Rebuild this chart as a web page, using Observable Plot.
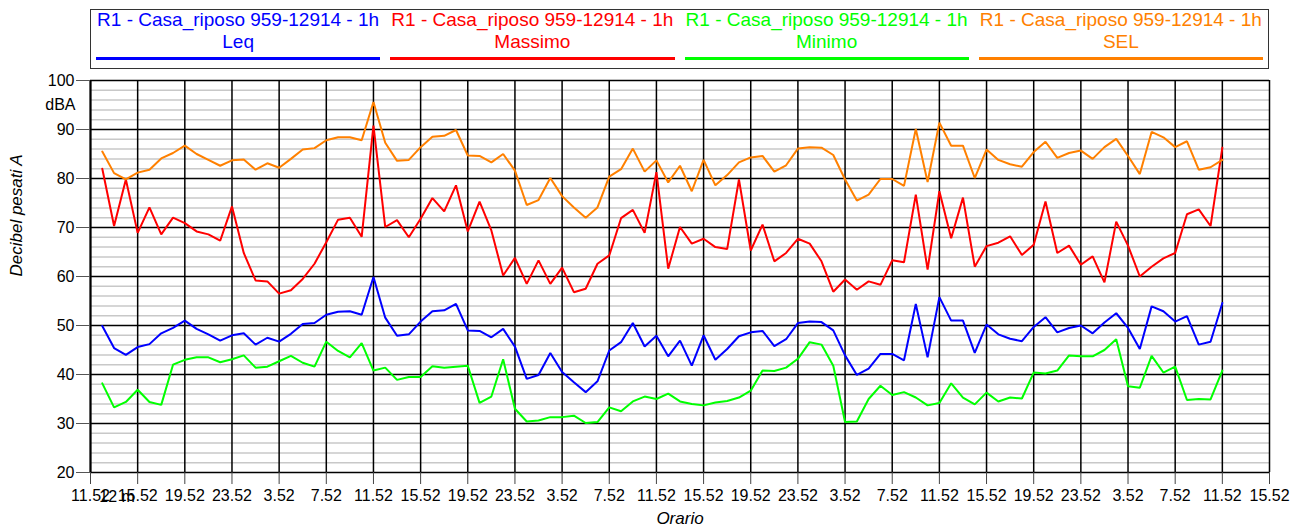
<!DOCTYPE html>
<html>
<head>
<meta charset="utf-8">
<script src="https://cdn.jsdelivr.net/npm/d3@7"></script>
<script src="https://cdn.jsdelivr.net/npm/@observablehq/plot@0.6"></script>
<style>
  html, body { margin: 0; padding: 0; background: #fff; }
  body { font-family: "Liberation Sans", Arial, sans-serif; }
  #wrap { position: relative; width: 1298px; height: 529px; overflow: hidden; }
  #chart { position: absolute; left: 0; top: 0; }
  #legend {
    position: absolute; left: 90px; top: 9px; width: 1179px; height: 60px;
    box-sizing: border-box; border: 1px solid #333; display: flex; background: #fff;
  }
  .item { flex: 1; padding: 0 5px; text-align: center; font-size: 19px; line-height: 22px; }
  .item .t1 { margin-top: -1px; white-space: nowrap; }
  .item .rule { height: 3px; margin-top: 4px; }
</style>
</head>
<body>
<div id="wrap">
  <div id="chart"></div>
  <div id="legend"></div>
</div>
<script>
// ---- data ----
const seriesPrefix = "R1 - Casa_riposo 959-12914 - 1h";
const seriesNames = ["Leq", "Massimo", "Minimo", "SEL"];
const seriesColors = ["#0000ff", "#ff0000", "#00ff00", "#ff8000"];

// hourly readings, hour offset 1..96 from 11.52 of the first day
const hours = d3.range(1, 97);

const leq = [49.9,45.4,44.0,45.6,46.2,48.4,49.5,51.0,49.3,48.2,
  46.9,48.0,48.4,46.1,47.5,46.7,48.3,50.3,50.5,52.2,
  52.8,52.9,52.2,59.9,51.6,47.9,48.2,50.8,52.9,53.1,
  54.4,49.0,48.9,47.6,49.3,45.7,39.1,39.9,44.4,40.5,
  38.4,36.4,38.6,44.9,46.6,50.5,45.7,47.9,43.7,46.9,
  41.8,48.0,43.0,45.2,47.8,48.6,48.9,45.8,47.2,50.5,
  50.8,50.7,49.0,43.9,39.9,41.2,44.2,44.2,42.9,54.4,
  43.5,55.8,51.0,51.0,44.4,50.2,48.2,47.3,46.8,49.7,
  51.7,48.6,49.5,50.0,48.4,50.6,52.5,49.5,45.2,53.9,
  52.9,50.8,51.9,46.1,46.7,54.6];

const massimo = [82.0,70.3,79.8,68.9,74.1,68.6,72.0,70.9,69.2,68.6,
  67.3,74.3,64.8,59.2,59.0,56.5,57.2,59.5,62.6,67.0,
  71.6,72.0,68.1,90.8,70.1,71.5,68.0,71.8,76.0,73.3,
  78.6,69.2,75.3,69.4,60.2,63.8,58.5,63.3,58.5,61.8,
  56.8,57.5,62.6,64.3,71.9,73.6,68.9,81.3,61.6,70.1,
  66.7,67.7,66.0,65.6,79.8,65.3,70.6,63.1,64.8,67.7,
  66.7,63.1,56.9,59.4,57.3,59.0,58.3,63.3,62.9,76.7,
  61.4,77.4,67.8,76.1,62.0,66.2,66.9,68.2,64.4,66.5,
  75.3,64.8,66.3,62.4,64.1,58.8,71.2,66.3,60.0,62.0,
  63.7,64.8,72.7,73.7,70.3,86.3];

const minimo = [38.2,33.3,34.4,36.9,34.4,33.8,42.0,43.0,43.5,43.5,
  42.5,43.1,43.9,41.4,41.6,42.7,43.8,42.4,41.6,46.7,
  44.8,43.5,46.4,40.8,41.4,38.9,39.5,39.5,41.7,41.4,
  41.6,41.8,34.2,35.5,43.1,33.0,30.4,30.6,31.3,31.3,
  31.6,30.1,30.3,33.3,32.5,34.5,35.5,35.0,36.1,34.5,
  34.0,33.7,34.3,34.6,35.3,36.7,40.8,40.7,41.4,43.2,
  46.6,46.1,41.8,30.3,30.4,35.0,37.7,35.8,36.4,35.3,
  33.7,34.2,38.2,35.3,33.9,36.3,34.5,35.3,35.1,40.4,
  40.2,40.8,43.9,43.7,43.7,45.0,47.2,37.6,37.3,43.8,
  40.4,41.6,34.8,35.0,34.9,40.8];

const sel = [85.5,81.1,79.8,81.2,81.8,84.1,85.2,86.7,85.0,83.8,
  82.6,83.7,83.9,81.8,83.1,82.2,84.0,85.9,86.2,87.8,
  88.4,88.4,87.8,95.6,87.3,83.6,83.8,86.4,88.5,88.7,
  89.9,84.7,84.6,83.3,85.0,81.6,74.6,75.6,80.1,76.4,
  74.1,72.0,74.1,80.4,81.9,86.1,81.4,83.7,79.2,82.6,
  77.4,83.8,78.6,80.7,83.3,84.3,84.6,81.4,82.7,86.1,
  86.4,86.3,84.8,79.8,75.5,76.7,79.9,79.9,78.5,90.1,
  79.3,91.4,86.7,86.7,80.1,85.9,83.8,82.9,82.4,85.4,
  87.5,84.2,85.2,85.7,84.0,86.4,88.1,84.6,80.9,89.5,
  88.4,86.4,87.6,81.8,82.3,83.8];

// axes
const xTickHours = d3.range(0, 101, 4);
const xTickLabels = ["11.52","15.52","19.52","23.52","3.52","7.52",
  "11.52","15.52","19.52","23.52","3.52","7.52",
  "11.52","15.52","19.52","23.52","3.52","7.52",
  "11.52","15.52","19.52","23.52","3.52","7.52",
  "11.52","15.52"];
const yTicks = [20, 30, 40, 50, 60, 70, 80, 90, 100];
const yMinorTicks = d3.range(22, 100, 2).filter(v => v % 10 !== 0);
const dateLabel = {hour: 1, text: "12 m"};
const yUnit = "dBA";
const yTitle = "Decibel pesati A";
const xTitle = "Orario";

// ---- legend ----
const legend = document.getElementById("legend");
seriesNames.forEach((n, i) => {
  const it = document.createElement("div");
  it.className = "item";
  it.style.color = seriesColors[i];
  it.innerHTML = `<div class="t1">${seriesPrefix}</div><div class="t2">${n}</div><div class="rule" style="background:${seriesColors[i]}"></div>`;
  legend.appendChild(it);
});

// ---- chart ----
const allSeries = [leq, massimo, minimo, sel];
const lineMarks = allSeries.map((vals, si) =>
  Plot.line(hours.map((h, i) => ({h, v: vals[i]})), {
    x: "h", y: "v", stroke: seriesColors[si], strokeWidth: 2, strokeLinejoin: "miter"
  })
);

const chart = Plot.plot({
  width: 1298,
  height: 529,
  marginTop: 80,
  marginBottom: 57,
  marginLeft: 90,
  marginRight: 29,
  style: {fontFamily: '"Liberation Sans", Arial, sans-serif', fontSize: "16px", background: "#fff", color: "#000", overflow: "visible"},
  x: {domain: [0, 100]},
  y: {domain: [20, 100]},
  marks: [
    Plot.ruleY(yMinorTicks, {stroke: "#c8c8c8", strokeWidth: 1.5}),
    Plot.ruleY(yTicks, {stroke: "#000", strokeWidth: 1.6}),
    Plot.ruleX(xTickHours, {stroke: "#000", strokeWidth: 1.5}),
    Plot.ruleX([0], {stroke: "#000", strokeWidth: 2}),
    ...lineMarks,
    Plot.axisY({ticks: yTicks, tickSize: 14, tickPadding: 2, fontSize: 16, label: null, stroke: "#555"}),
    Plot.axisX({ticks: xTickHours, tickSize: 12, tickPadding: 5, fontSize: 16, label: null, stroke: "#444",
      tickFormat: d => xTickLabels[xTickHours.indexOf(d)]}),
    Plot.text([dateLabel], {x: "hour", text: "text", frameAnchor: "bottom", dy: 24, dx: -3, textAnchor: "start", lineAnchor: "middle", fontSize: 16, fill: "#000"}),
    Plot.text([yUnit], {y: 95, frameAnchor: "left", dx: -15, textAnchor: "end", fontSize: 16, fill: "#000"}),
    Plot.text([yTitle], {frameAnchor: "left", dx: -74, rotate: -90, fontStyle: "italic", fontSize: 17, fill: "#000"}),
    Plot.text([xTitle], {frameAnchor: "bottom", dy: 51, fontStyle: "italic", fontSize: 17, fill: "#000"})
  ]
});
document.getElementById("chart").appendChild(chart);
</script>
</body>
</html>
